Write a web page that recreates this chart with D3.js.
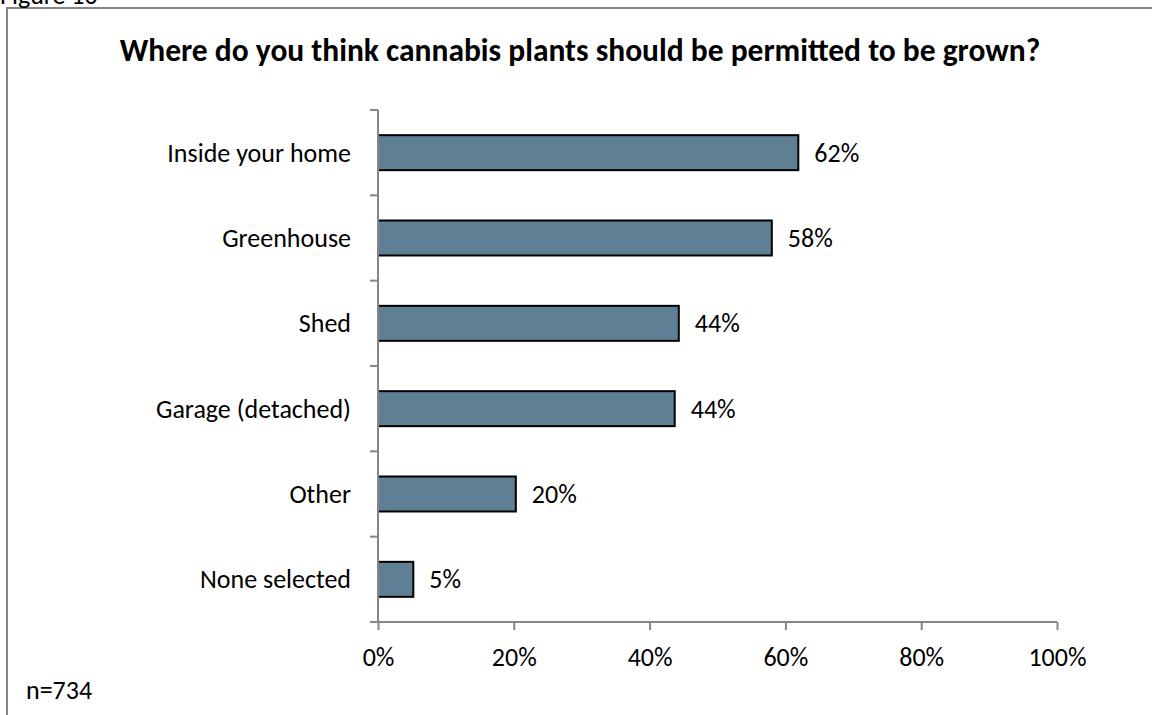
<!DOCTYPE html>
<html lang="en">
<head>
  <meta charset="UTF-8" />
  <title>Where do you think cannabis plants should be permitted to be grown?</title>
  <script src="https://d3js.org/d3.v7.min.js"></script>
  <style>
    body { margin: 0; background: #fff; }
    svg { display: block; font-family: Carlito, Calibri, "Open Sans", sans-serif; }
  </style>
</head>
<body>
  <svg id="chart" width="1152" height="715"></svg>
  <script>
  const categories = ["Inside your home", "Greenhouse", "Shed", "Garage (detached)", "Other", "None selected"];
  const values = [61.9, 58.0, 44.3, 43.7, 20.3, 5.2];
  const valueLabels = ["62%", "58%", "44%", "44%", "20%", "5%"];
  const xTicks = [0, 20, 40, 60, 80, 100];

  const fs = 26;
  const svg = d3.select("#chart"),
        margin = { top: 110, right: 95, bottom: 93, left: 378 },
        width = 1152 - margin.left - margin.right,
        height = 715 - margin.top - margin.bottom,
        g = svg.append("g").attr("transform", `translate(${margin.left},${margin.top})`);

  const data = categories.map((c, i) => ({ cat: c, v: values[i], lab: valueLabels[i] }));

  const x = d3.scaleLinear().domain([0, 100]).range([0, width]);
  const y = d3.scaleBand().domain(categories).range([0, height]).paddingInner(0.59).paddingOuter(0.295);

  // outer frame (runs off the canvas on the right and bottom)
  svg.append("rect")
    .attr("x", 7).attr("y", 8).attr("width", 1160).attr("height", 720)
    .attr("fill", "none").attr("stroke", "#868686").attr("stroke-width", 2);

  svg.append("text")
    .attr("x", 0).attr("y", 4)
    .attr("font-size", fs).attr("fill", "#000")
    .text("Figure 10");

  svg.append("text")
    .attr("x", 580).attr("y", 61)
    .attr("text-anchor", "middle")
    .attr("font-size", 31.5).attr("font-weight", "bold")
    .text("Where do you think cannabis plants should be permitted to be grown?");

  svg.append("text")
    .attr("x", 26).attr("y", 699)
    .attr("font-size", fs)
    .text("n=734");

  // bars
  g.selectAll("rect.bar").data(data).join("rect")
    .attr("class", "bar")
    .attr("x", x(0))
    .attr("y", d => y(d.cat))
    .attr("width", d => x(d.v) - x(0))
    .attr("height", y.bandwidth())
    .attr("fill", "#5f7f94")
    .attr("stroke", "#000").attr("stroke-width", 2);

  g.selectAll("text.val").data(data).join("text")
    .attr("class", "val")
    .attr("x", d => x(d.v) + 16)
    .attr("y", d => y(d.cat) + y.bandwidth() / 2)
    .attr("dy", "0.35em")
    .attr("font-size", fs)
    .text(d => d.lab);

  // y axis with ticks between categories
  const yAxis = g.append("g");
  yAxis.append("line").attr("x1", 0).attr("x2", 0).attr("y1", 0).attr("y2", height)
    .attr("stroke", "#868686").attr("stroke-width", 2);
  const bounds = d3.range(categories.length + 1).map(i => i * height / categories.length);
  yAxis.selectAll("line.tk").data(bounds).join("line")
    .attr("class", "tk")
    .attr("x1", -8).attr("x2", 0).attr("y1", d => d).attr("y2", d => d)
    .attr("stroke", "#868686").attr("stroke-width", 2);
  yAxis.selectAll("text").data(categories).join("text")
    .attr("x", -27)
    .attr("y", d => y(d) + y.bandwidth() / 2)
    .attr("dy", "0.35em")
    .attr("text-anchor", "end")
    .attr("font-size", fs)
    .text(d => d);

  // x axis
  const xAxis = g.append("g").attr("transform", `translate(0,${height})`)
    .call(d3.axisBottom(x).tickValues(xTicks).tickFormat(d => d + "%").tickSize(8).tickSizeOuter(0));
  xAxis.select(".domain").attr("stroke", "#868686").attr("stroke-width", 2)
    .attr("d", `M-8,0H${width}`);
  xAxis.selectAll(".tick line").attr("stroke", "#868686").attr("stroke-width", 2);
  xAxis.selectAll(".tick text")
    .attr("y", 44).attr("dy", 0)
    .attr("font-size", fs).attr("fill", "#000")
    .attr("font-family", "Carlito, Calibri, 'Open Sans', sans-serif");
  </script>
</body>
</html>
